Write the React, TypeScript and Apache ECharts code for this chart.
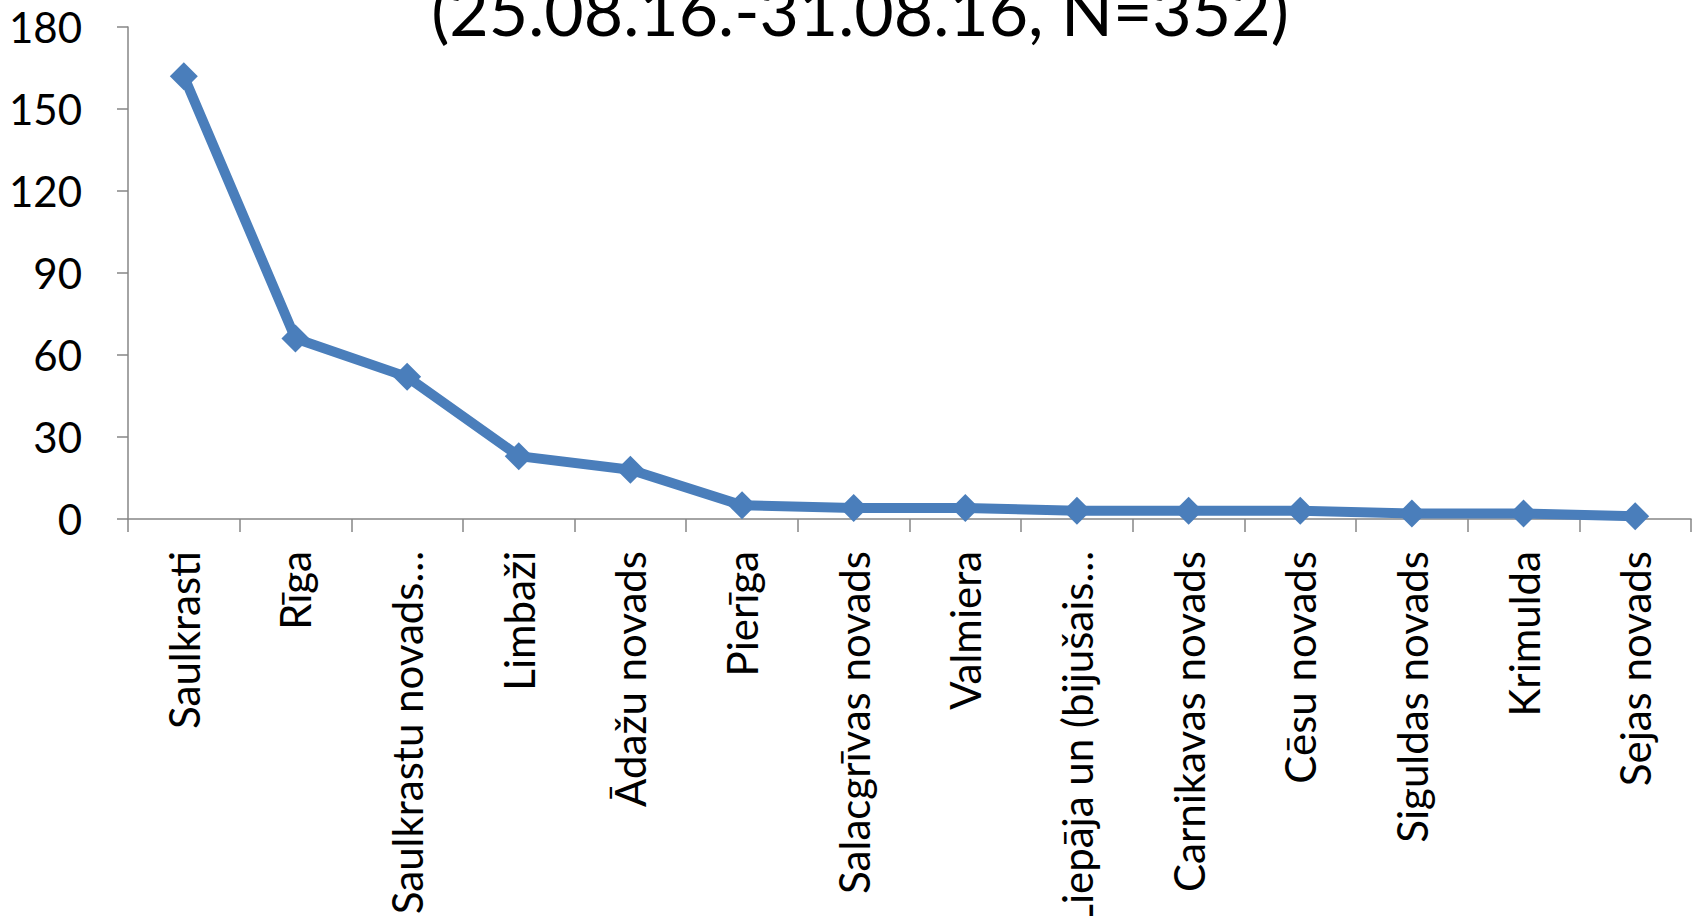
import React, { useEffect, useRef } from "react";
import * as echarts from "echarts";

const categories = [
  "Saulkrasti",
  "Rīga",
  "Saulkrastu novads…",
  "Limbaži",
  "Ādažu novads",
  "Pierīga",
  "Salacgrīvas novads",
  "Valmiera",
  "Liepāja un (bijušais…",
  "Carnikavas novads",
  "Cēsu novads",
  "Siguldas novads",
  "Krimulda",
  "Sejas novads",
];
const values = [162, 66, 52, 23, 18, 5, 4, 4, 3, 3, 3, 2, 2, 1];
const titleText = "(25.08.16.-31.08.16, N=352)";
const yMin = 0;
const yMax = 180;
const yStep = 30;

const FONT = "Lato";

export default function App() {
  const ref = useRef<HTMLDivElement>(null);
  useEffect(() => {
    if (!ref.current) return;
    const chart = echarts.init(ref.current, null, { renderer: "svg" });
    chart.setOption({
      animation: false,
      backgroundColor: "#ffffff",
      title: {
        text: titleText,
        left: 855,
        textAlign: "center",
        top: -30,
        textStyle: { fontFamily: FONT, fontSize: 68, fontWeight: "normal", color: "#000" },
      },
      grid: {
        left: 128,
        right: 5,
        top: 27,
        height: 492,
        containLabel: false,
        outerBoundsMode: "none",
      },
      xAxis: {
        type: "category",
        data: categories,
        boundaryGap: true,
        axisLine: { lineStyle: { color: "#868686", width: 1.5 } },
        axisTick: { show: true, length: 13, alignWithLabel: false, lineStyle: { color: "#868686", width: 1.5 } },
        axisLabel: {
          rotate: 90,
          interval: 0,
          margin: 32,
          fontFamily: FONT,
          fontSize: 42,
          color: "#000",
        },
      },
      yAxis: {
        type: "value",
        min: yMin,
        max: yMax,
        interval: yStep,
        splitLine: { show: false },
        axisLine: { show: true, lineStyle: { color: "#868686", width: 1.5 } },
        axisTick: { show: true, length: 11, lineStyle: { color: "#868686", width: 1.5 } },
        axisLabel: { margin: 46, fontFamily: FONT, fontSize: 42, color: "#000" },
      },
      series: [
        {
          type: "line",
          data: values,
          symbol: "diamond",
          symbolSize: 28,
          lineStyle: { color: "#4A7EBB", width: 10 },
          itemStyle: { color: "#4A7EBB" },
        },
      ],
    });
    return () => chart.dispose();
  }, []);
  return (
    <div
      ref={ref}
      style={{ position: "absolute", left: 0, top: 0, width: 1696, height: 916 }}
    />
  );
}
